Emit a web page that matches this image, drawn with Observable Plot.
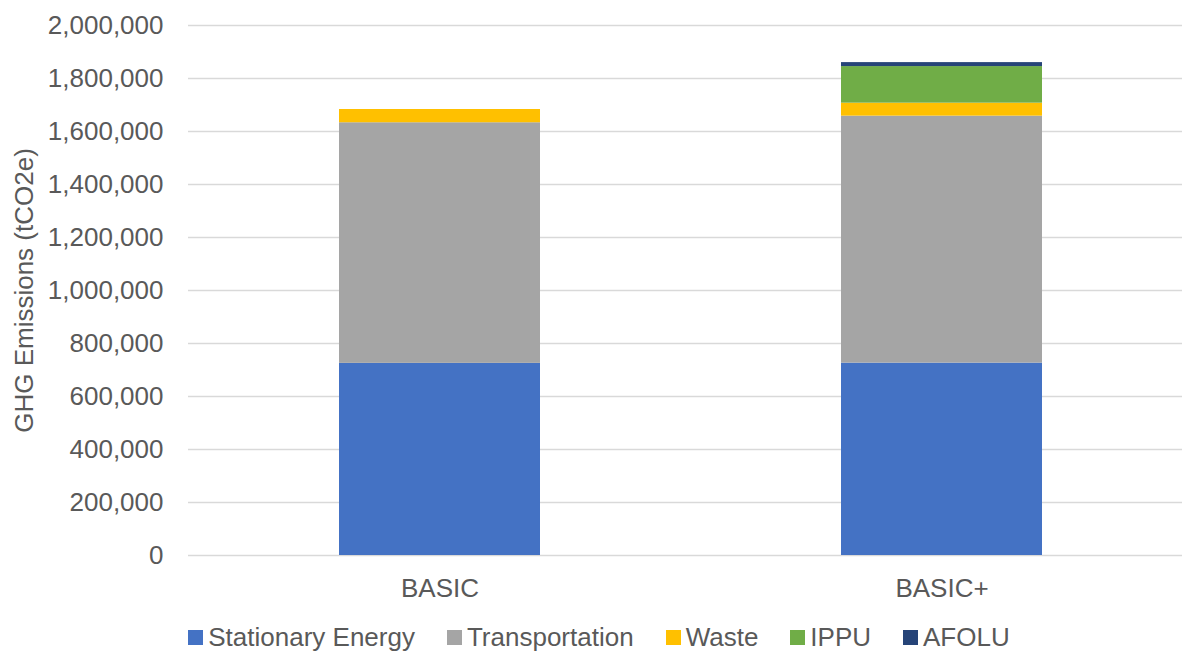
<!DOCTYPE html>
<html>
<head>
<meta charset="utf-8">
<script src="https://cdn.jsdelivr.net/npm/d3@7"></script>
<script src="https://cdn.jsdelivr.net/npm/@observablehq/plot@0.6"></script>
<style>
  html, body { margin: 0; padding: 0; background: #fff; overflow: hidden; }
  body { width: 1182px; height: 653px; font-family: "Liberation Sans", Arial, sans-serif; }
  #legend { display: flex; justify-content: center; align-items: center; height: 30px; margin-top: 2px; padding-left: 16px; font-size: 26px; color: #595959; line-height: 30px; white-space: nowrap; }
  #legend .item { display: flex; align-items: center; margin: 0 16px; }
  #legend .sw { width: 15px; height: 15px; margin-right: 5px; }
</style>
</head>
<body>
<div id="chart"></div>
<div id="legend"></div>
<script>
const scenarios = ["BASIC", "BASIC+"];
const sectors = ["Stationary Energy", "Transportation", "Waste", "IPPU", "AFOLU"];
const colors = ["#4472C4", "#A5A5A5", "#FFC000", "#70AD47", "#264478"];
const basicValues = [725000, 908000, 50000, 0, 0];
const basicPlusValues = [726000, 932000, 49000, 138000, 15000];
const yTicks = [0, 200000, 400000, 600000, 800000, 1000000, 1200000, 1400000, 1600000, 1800000, 2000000];
const yTitle = "GHG Emissions (tCO2e)";

const rows = [];
sectors.forEach((s, i) => {
  rows.push({scenario: scenarios[0], sector: s, value: basicValues[i]});
  rows.push({scenario: scenarios[1], sector: s, value: basicPlusValues[i]});
});

const fmt = d3.format(",");

const chart = Plot.plot({
  width: 1182,
  height: 620,
  marginLeft: 188,
  marginRight: 0,
  marginTop: 25,
  marginBottom: 65,
  style: {fontFamily: "Liberation Sans, Arial, sans-serif", fontSize: "26px", color: "#595959", background: "#fff", overflow: "visible"},
  x: {domain: scenarios, range: [188, 1192], paddingInner: 0.6, paddingOuter: 0.3, label: null},
  y: {domain: [0, 2000000], label: null},
  color: {domain: sectors, range: colors},
  marks: [
    Plot.ruleY(yTicks, {stroke: "#D9D9D9", strokeWidth: 1.5}),
    Plot.barY(rows, {x: "scenario", y: "value", fill: "sector", order: sectors}),
    Plot.axisY({ticks: yTicks, tickSize: 0, tickPadding: 25, tickFormat: fmt, label: null, fill: "#595959"}),
    Plot.axisX({tickSize: 0, tickPadding: 23, label: null, fill: "#595959"}),
    Plot.text([yTitle], {frameAnchor: "left", textAnchor: "middle", rotate: -90, dx: -164, dy: 0, fill: "#595959", fontSize: 26})
  ]
});
document.getElementById("chart").appendChild(chart);

const legend = document.getElementById("legend");
sectors.forEach((s, i) => {
  const item = document.createElement("div");
  item.className = "item";
  const sw = document.createElement("div");
  sw.className = "sw";
  sw.style.background = colors[i];
  const lab = document.createElement("span");
  lab.textContent = s;
  item.appendChild(sw);
  item.appendChild(lab);
  legend.appendChild(item);
});
</script>
</body>
</html>
